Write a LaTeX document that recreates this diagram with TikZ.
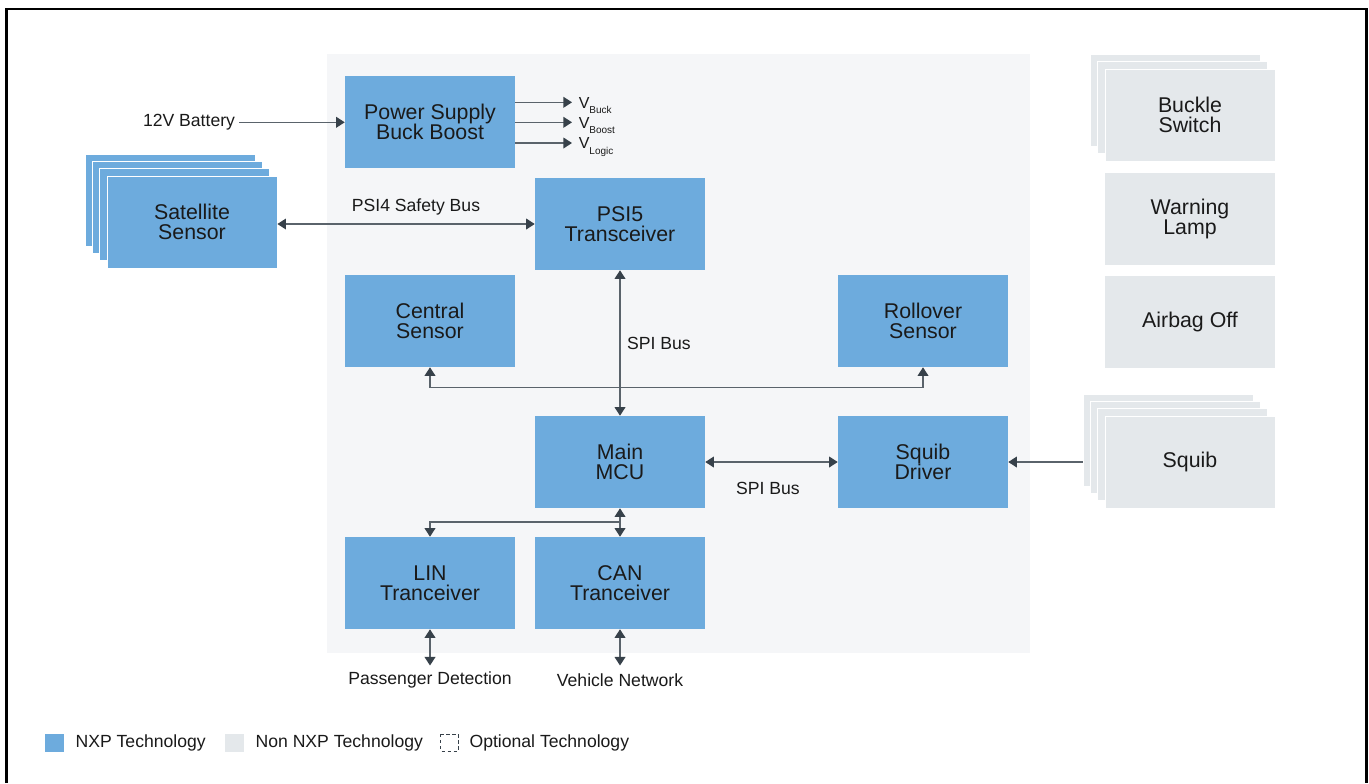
\documentclass[tikz,border=0pt]{standalone}
\usepackage{fontspec}
\setmainfont{Liberation Sans}
\usetikzlibrary{arrows.meta}
\definecolor{nxp}{HTML}{6DABDD}
\definecolor{nonnxp}{HTML}{E4E8EB}
\definecolor{panel}{HTML}{F5F6F8}
\definecolor{lnc}{HTML}{5A636B}
\definecolor{tipc}{HTML}{37414A}
\definecolor{txt}{HTML}{1A1A1A}
\tikzset{
  blk/.style={minimum width=127.5pt, minimum height=69pt, inner sep=0pt, align=center,
    font=\fontsize{16}{15}\selectfont, text=txt},
  nxpbox/.style={blk, fill=nxp},
  nxpstack/.style={blk, fill=nxp, draw=white, line width=0.6pt},
  greybox/.style={blk, fill=nonnxp},
  greystack/.style={blk, fill=nonnxp, draw=white, line width=0.6pt},
  lbl/.style={font=\fontsize{13.2}{15}\selectfont, text=txt, inner sep=1pt},
  conn/.style={draw=lnc, line width=1pt},
  arr/.style={conn, -{Triangle[length=6.4pt, width=8pt, color=tipc]}},
  dblarr/.style={conn, {Triangle[length=6.4pt, width=8pt, color=tipc]}-{Triangle[length=6.4pt, width=8pt, color=tipc]}},
}
\newcommand{\Vsub}[1]{V\raisebox{-0.62ex}{\fontsize{7.5}{8}\selectfont #1}}
\begin{document}
\begin{tikzpicture}[x=0.75pt,y=-0.75pt]
\useasboundingbox (0,0) rectangle (1369,783);
\fill[white] (0,0) rectangle (1369,783);
% outer frame
\draw[black, line width=1.9pt] (6.3,783) -- (6.3,9) -- (1366.5,9) -- (1366.5,783);
% panel
\fill[panel] (327,54) rectangle (1030,652.5);

% NXP blocks
\node[nxpbox] (ps) at (430,122.3) {Power Supply\\Buck Boost};
\node[nxpbox] (psi5) at (620,224) {PSI5\\Transceiver};
\node[nxpbox] (central) at (430,321) {Central\\Sensor};
\node[nxpbox] (rollover) at (923,321) {Rollover\\Sensor};
\node[nxpbox] (mcu) at (620,462) {Main\\MCU};
\node[nxpbox] (squibdrv) at (923,462) {Squib\\Driver};
\node[nxpbox] (lin) at (430,583) {LIN\\Tranceiver};
\node[nxpbox] (can) at (620,583) {CAN\\Tranceiver};

% satellite sensor stack
\node[nxpstack] (sat0) at (170.3,200.1) {};
\node[nxpstack] (sat1) at (177.5,207.4) {};
\node[nxpstack] (sat2) at (184.8,214.7) {};
\node[nxpstack] (sat) at (192,222) {Satellite\\Sensor};

% non NXP
\node[greystack] (bk0) at (1175.4,100.4) {};
\node[greystack] (bk1) at (1182.7,107.7) {};
\node[greystack] (buckle) at (1190,115) {Buckle\\Switch};
\node[greybox] (warn) at (1190,218.5) {Warning\\Lamp};
\node[greybox] (airbag) at (1190,321.5) {Airbag Off};
\node[greystack] (sq0) at (1168.1,440.1) {};
\node[greystack] (sq1) at (1175.4,447.4) {};
\node[greystack] (sq2) at (1182.7,454.7) {};
\node[greystack] (squib) at (1190,462) {Squib};

% battery
\node[lbl] (batt) at (189,122.3) {12V Battery};
\draw[arr] ([xshift=2pt]batt.east) -- (ps.west);

% outputs
\coordinate (vb) at (572,102.3);
\coordinate (vbo) at (572,122.3);
\coordinate (vl) at (572,143);
\draw[arr] (ps.east |- vb) -- (vb);
\draw[arr] (ps.east |- vbo) -- (vbo);
\draw[arr] (ps.east |- vl) -- (vl);
\node[anchor=base west, inner sep=0pt, text=txt, font=\fontsize{12}{12}\selectfont] (vbt) at (578.5,108.2) {\Vsub{Buck}};
\node[anchor=base west, inner sep=0pt, text=txt, font=\fontsize{12}{12}\selectfont] (vbot) at (578.5,128.2) {\Vsub{Boost}};
\node[anchor=base west, inner sep=0pt, text=txt, font=\fontsize{12}{12}\selectfont] (vlt) at (578.5,148.9) {\Vsub{Logic}};

% PSI4 bus
\draw[dblarr] (sat.east |- psi5.west) -- (psi5.west);
\node[lbl] (psi4l) at (416,207) {PSI4 Safety Bus};

% SPI bus vertical
\draw[dblarr] (psi5.south) -- (mcu.north);
\node[lbl] (spi1) at (659,343) {SPI Bus};

% sensor bus
\coordinate (busL) at (430,387.7);
\coordinate (busR) at (923,387.7);
\draw[conn] (busL) -- (busR);
\draw[arr] (busL) -- (central.south);
\draw[arr] (busR) -- (rollover.south);

% MCU - squib driver
\draw[dblarr] (mcu.east) -- (squibdrv.west);
\node[lbl] (spi2) at (768,488) {SPI Bus};

% squib -> driver
\draw[arr] (sq0.west |- squibdrv.east) -- (squibdrv.east);

% MCU - CAN / LIN
\draw[dblarr] (mcu.south) -- (can.north);
\coordinate (br) at (620,522);
\draw[arr] (br) -| (lin.north);

% external
\coordinate (pd) at (430,665.5);
\coordinate (vn) at (620,665.5);
\draw[dblarr] (lin.south) -- (pd);
\draw[dblarr] (can.south) -- (vn);
\node[lbl] (pdl) at (430,680) {Passenger Detection};
\node[lbl] (vnl) at (620,680) {Vehicle Network};

% legend
\fill[nxp] (45,733.5) rectangle (63.5,751.5);
\node[lbl, anchor=west] (lg1) at (74,742.5) {NXP Technology};
\fill[nonnxp] (225,733.5) rectangle (243.5,751.5);
\node[lbl, anchor=west] (lg2) at (254,742.5) {Non NXP Technology};
\draw[tipc, line width=0.7pt, dash pattern=on 2.5pt off 2pt] (440.5,734) rectangle (458,751);
\node[lbl, anchor=west] (lg3) at (468,742.5) {Optional Technology};
\end{tikzpicture}
\end{document}
